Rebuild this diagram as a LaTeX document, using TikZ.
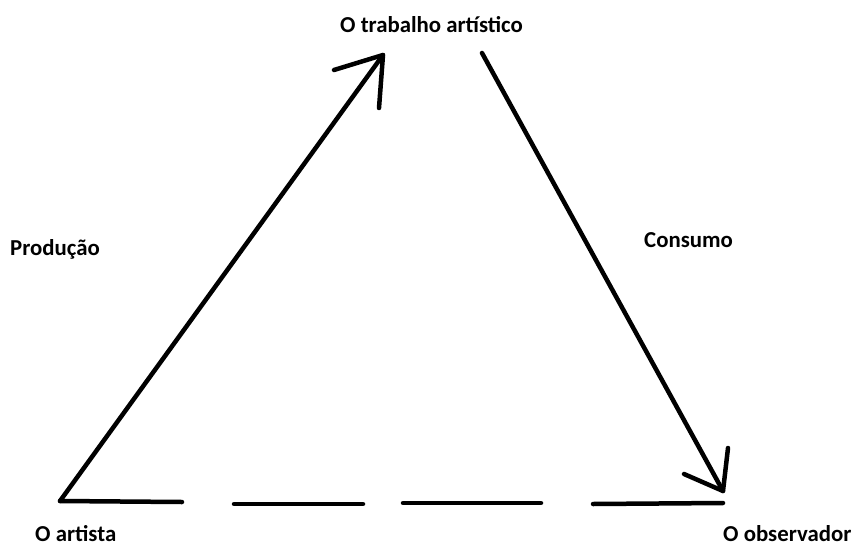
\documentclass[tikz,border=0pt]{standalone}
\usepackage{fontspec}
\setmainfont{Carlito}
\begin{document}
\begin{tikzpicture}[x=1pt,y=-1pt,
  stroke/.style={line width=4.5pt,line cap=round,line join=round,black},
  lbl/.style={font=\fontsize{22.8}{26}\selectfont\bfseries,inner sep=0pt,anchor=base west}]
\useasboundingbox[fill=white] (0,0) rectangle (859,546);
% points
\coordinate (artist) at (60,501);
\coordinate (worktip) at (383,55);
\coordinate (workbarbL) at (334,70);
\coordinate (workbarbR) at (379,108);
\coordinate (workout) at (482,53);
\coordinate (obstip) at (723,491);
\coordinate (obsbarbL) at (684,474);
\coordinate (obsbarbR) at (728,448);
\coordinate (d1e) at (182,502);
\coordinate (d2s) at (234,504);
\coordinate (d2e) at (363,504);
\coordinate (d3s) at (403,503);
\coordinate (d3e) at (541,503);
\coordinate (d4s) at (593,504);
\coordinate (d4e) at (723,503);
% labels
\node[lbl] (work) at (340,32) {O trabalho artístico};
\node[lbl] (prod) at (10,255) {Produção};
\node[lbl] (cons) at (644,247) {Consumo};
\node[lbl] (obs) at (723,541) {O observador};
\node[lbl] (art) at (35,541) {O artista};
% production arrow
\draw[stroke] (artist) -- (worktip);
\draw[stroke] (workbarbL) -- (worktip) -- (workbarbR);
% consumption arrow
\draw[stroke] (workout) -- (obstip);
\draw[stroke] (obsbarbL) -- (obstip) -- (obsbarbR);
% dashed base
\draw[stroke] (artist) -- (d1e);
\draw[stroke] (d2s) -- (d2e);
\draw[stroke] (d3s) -- (d3e);
\draw[stroke] (d4s) -- (d4e);
\end{tikzpicture}
\end{document}
